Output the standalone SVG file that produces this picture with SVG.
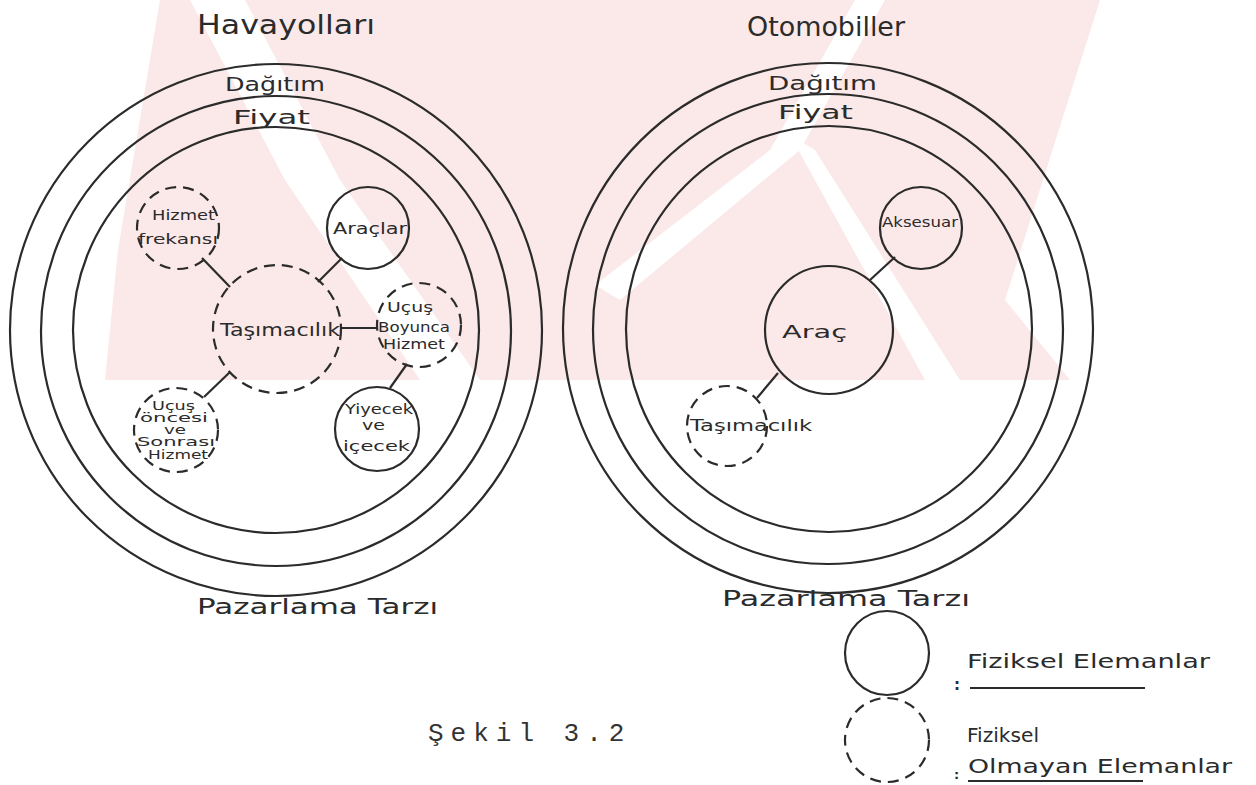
<svg xmlns="http://www.w3.org/2000/svg" width="1256" height="785" viewBox="0 0 1256 785">
<style>
.bg{fill:#ffffff}
.wm{fill:#fbe8e8}
.wg{fill:#ffffff}
.ring{fill:none;stroke:#2b2b2b;stroke-width:2.2}
.solid{fill:none;stroke:#2b2b2b;stroke-width:2.2}
.dash{fill:none;stroke:#2b2b2b;stroke-width:2.2;stroke-dasharray:11 7}
.conn line{stroke:#2b2b2b;stroke-width:2.2}
.hw{font-family:"DejaVu Sans","Liberation Sans",sans-serif;fill:#2b2b2b}
.tw{font-family:"Liberation Mono","DejaVu Sans Mono",monospace;font-size:26px;fill:#333;letter-spacing:7px}
</style>
<rect class="bg" x="0" y="0" width="1256" height="785"/>
<g id="watermark">
<polygon class="wm" points="160,0 1100,0 1005,300 1070,380 105,380 118,250"/>
<polygon class="wg" points="190,0 245,0 340,180 480,380 420,380 285,180"/>
<polygon class="wg" points="855,0 885,0 800,150 620,300 595,285 770,150"/>
<polygon class="wg" points="790,135 815,150 960,380 925,380"/>
</g>
<g id="havayollari">
<text class="hw" x="197" y="34" font-size="26" textLength="178" lengthAdjust="spacingAndGlyphs">Havayolları</text>
<circle class="ring" cx="276" cy="330" r="266"/>
<circle class="ring" cx="276" cy="331" r="235"/>
<circle class="ring" cx="276" cy="330" r="203"/>
<text class="hw" x="225" y="91" font-size="19" textLength="100" lengthAdjust="spacingAndGlyphs">Dağıtım</text>
<text class="hw" x="233" y="124" font-size="19" textLength="77" lengthAdjust="spacingAndGlyphs">Fiyat</text>
<text class="hw" x="197" y="614" font-size="22" textLength="241" lengthAdjust="spacingAndGlyphs">Pazarlama Tarzı</text>
</g>
<g id="otomobiller">
<text class="hw" x="747" y="36" font-size="26" textLength="158" lengthAdjust="spacingAndGlyphs">Otomobiller</text>
<circle class="ring" cx="828" cy="328" r="265"/>
<circle class="ring" cx="828" cy="329" r="235"/>
<circle class="ring" cx="829" cy="329" r="203"/>
<text class="hw" x="768" y="90" font-size="19" textLength="109" lengthAdjust="spacingAndGlyphs">Dağıtım</text>
<text class="hw" x="778" y="119" font-size="19" textLength="75" lengthAdjust="spacingAndGlyphs">Fiyat</text>
<text class="hw" x="722" y="606" font-size="22" textLength="248" lengthAdjust="spacingAndGlyphs">Pazarlama Tarzı</text>
</g>
<g id="connectors" class="conn">
<line x1="202" y1="258" x2="230" y2="287"/>
<line x1="342" y1="258" x2="318" y2="282"/>
<line x1="341" y1="328" x2="378" y2="328"/>
<line x1="230" y1="372" x2="204" y2="397"/>
<line x1="407" y1="364" x2="390" y2="388"/>
<line x1="870" y1="280" x2="895" y2="257"/>
<line x1="778" y1="373" x2="757" y2="398"/>
</g>
<g id="n-hizmet-frekansi">
<circle class="dash" cx="178" cy="228" r="41"/>
<text class="hw" x="152" y="220" font-size="14" textLength="63" lengthAdjust="spacingAndGlyphs">Hizmet</text>
<text class="hw" x="138" y="244" font-size="14" textLength="80" lengthAdjust="spacingAndGlyphs">frekansı</text>
</g>
<g id="n-araclar">
<circle class="solid" cx="368" cy="228" r="41"/>
<text class="hw" x="333" y="234" font-size="16" textLength="74" lengthAdjust="spacingAndGlyphs">Araçlar</text>
</g>
<g id="n-tasimacilik-l">
<circle class="dash" cx="277" cy="329" r="64"/>
<text class="hw" x="220" y="336" font-size="17" textLength="120" lengthAdjust="spacingAndGlyphs">Taşımacılık</text>
</g>
<g id="n-ucus-boyunca">
<circle class="dash" cx="419" cy="325" r="42"/>
<text class="hw" x="387" y="312" font-size="14" textLength="46" lengthAdjust="spacingAndGlyphs">Uçuş</text>
<text class="hw" x="378" y="332" font-size="14" textLength="72" lengthAdjust="spacingAndGlyphs">Boyunca</text>
<text class="hw" x="383" y="349" font-size="14" textLength="62" lengthAdjust="spacingAndGlyphs">Hizmet</text>
</g>
<g id="n-ucus-oncesi">
<circle class="dash" cx="176" cy="430" r="42"/>
<text class="hw" x="152" y="410" font-size="12" textLength="43" lengthAdjust="spacingAndGlyphs">Uçuş</text>
<text class="hw" x="140" y="422" font-size="12" textLength="68" lengthAdjust="spacingAndGlyphs">öncesi</text>
<text class="hw" x="164" y="434" font-size="12" textLength="22" lengthAdjust="spacingAndGlyphs">ve</text>
<text class="hw" x="137" y="446" font-size="12" textLength="78" lengthAdjust="spacingAndGlyphs">Sonrası</text>
<text class="hw" x="148" y="459" font-size="12" textLength="60" lengthAdjust="spacingAndGlyphs">Hizmet</text>
</g>
<g id="n-yiyecek">
<circle class="solid" cx="377" cy="429" r="42"/>
<text class="hw" x="345" y="414" font-size="14" textLength="68" lengthAdjust="spacingAndGlyphs">Yiyecek</text>
<text class="hw" x="362" y="430" font-size="14" textLength="23" lengthAdjust="spacingAndGlyphs">ve</text>
<text class="hw" x="343" y="451" font-size="14" textLength="67" lengthAdjust="spacingAndGlyphs">içecek</text>
</g>
<g id="n-aksesuar">
<circle class="solid" cx="921" cy="228" r="41"/>
<text class="hw" x="882" y="227" font-size="14" textLength="76" lengthAdjust="spacingAndGlyphs">Aksesuar</text>
</g>
<g id="n-arac">
<circle class="solid" cx="829" cy="330" r="64"/>
<text class="hw" x="782" y="338" font-size="17" textLength="65" lengthAdjust="spacingAndGlyphs">Araç</text>
</g>
<g id="n-tasimacilik-r">
<circle class="dash" cx="727" cy="426" r="40"/>
<text class="hw" x="690" y="431" font-size="16" textLength="122" lengthAdjust="spacingAndGlyphs">Taşımacılık</text>
</g>
<g id="legend">
<circle class="solid" cx="887" cy="653" r="42"/>
<circle class="dash" cx="887" cy="740" r="42"/>
<text class="hw" x="967" y="668" font-size="20" textLength="243" lengthAdjust="spacingAndGlyphs">Fiziksel Elemanlar</text>
<text class="hw" x="954" y="690" font-size="15" font-weight="bold">:</text>
<line x1="970" y1="688" x2="1145" y2="688" stroke="#2b2b2b" stroke-width="2"/>
<text class="hw" x="967" y="742" font-size="20" textLength="72" lengthAdjust="spacingAndGlyphs">Fiziksel</text>
<text class="hw" x="968" y="773" font-size="20" textLength="264" lengthAdjust="spacingAndGlyphs">Olmayan Elemanlar</text>
<text class="hw" x="954" y="779" font-size="13" font-weight="bold">:</text>
<line x1="968" y1="781" x2="1143" y2="781" stroke="#2b2b2b" stroke-width="2"/>
</g>
<text class="tw" x="428" y="741">Şekil 3.2</text>
</svg>
